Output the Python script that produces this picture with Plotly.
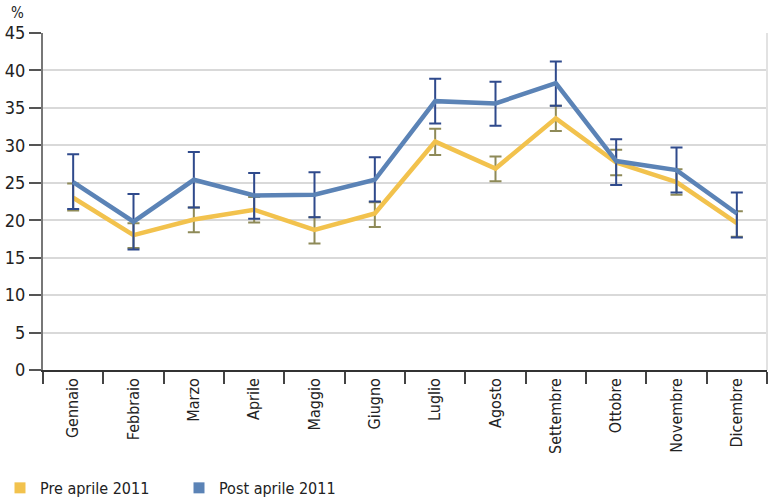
import plotly.graph_objects as go

# Months (Italian)
mesi = ["Gennaio", "Febbraio", "Marzo", "Aprile", "Maggio", "Giugno",
        "Luglio", "Agosto", "Settembre", "Ottobre", "Novembre", "Dicembre"]

# Pre aprile 2011: mean values and confidence bounds (%)
pre_val = [23.0, 18.0, 20.1, 21.4, 18.7, 20.9, 30.5, 26.9, 33.6, 27.7, 25.1, 19.6]
pre_hi = [24.9, 19.6, 21.7, 23.1, 20.4, 22.4, 32.2, 28.5, 35.3, 29.4, 26.8, 21.2]
pre_lo = [21.3, 16.3, 18.4, 19.7, 16.9, 19.1, 28.7, 25.2, 31.9, 26.0, 23.4, 17.8]

# Post aprile 2011: mean values and confidence bounds (%)
post_val = [25.1, 19.8, 25.4, 23.3, 23.4, 25.4, 35.9, 35.6, 38.3, 27.9, 26.7, 20.9]
post_hi = [28.8, 23.5, 29.1, 26.3, 26.4, 28.4, 38.9, 38.5, 41.2, 30.8, 29.7, 23.7]
post_lo = [21.5, 16.1, 21.7, 20.2, 20.4, 22.5, 32.9, 32.6, 35.3, 24.7, 23.7, 17.7]

y_ticks = [0, 5, 10, 15, 20, 25, 30, 35, 40, 45]

FONT = "DejaVu Sans Condensed, Liberation Sans Narrow, sans-serif"
YELLOW = "#F2C24D"
BLUE = "#5B83B6"
OLIVE = "#8E8A58"
NAVY = "#2F4A8C"


def err(vals, hi, lo):
    return ([h - v for h, v in zip(hi, vals)], [v - l for v, l in zip(vals, lo)])


pre_plus, pre_minus = err(pre_val, pre_hi, pre_lo)
post_plus, post_minus = err(post_val, post_hi, post_lo)

fig = go.Figure()

fig.add_trace(go.Scatter(
    x=mesi, y=pre_val, mode="lines", name="Pre aprile 2011",
    line=dict(color=YELLOW, width=4.5), showlegend=False,
    error_y=dict(type="data", symmetric=False, array=pre_plus, arrayminus=pre_minus,
                 color=OLIVE, thickness=2, width=6),
))
fig.add_trace(go.Scatter(
    x=mesi, y=post_val, mode="lines", name="Post aprile 2011",
    line=dict(color=BLUE, width=4.5), showlegend=False,
    error_y=dict(type="data", symmetric=False, array=post_plus, arrayminus=post_minus,
                 color=NAVY, thickness=2, width=6),
))

# Legend entries shown as square swatches
for name, col in [("Pre aprile 2011", YELLOW), ("Post aprile 2011", BLUE)]:
    fig.add_trace(go.Scatter(
        x=[None], y=[None], mode="markers", name=name,
        marker=dict(symbol="square", size=11, color=col),
    ))

fig.update_layout(
    width=773, height=502,
    margin=dict(l=43, r=6, t=33, b=132),
    paper_bgcolor="white", plot_bgcolor="white",
    font=dict(family=FONT, size=16, color="#222"),
    legend=dict(orientation="h", xref="container", yref="container",
                x=0.0, xanchor="left", y=0.028, yanchor="middle",
                font=dict(size=16, color="#222"), itemwidth=30,
                traceorder="normal", entrywidth=134),
    shapes=[dict(type="line", xref="paper", yref="paper", x0=1, x1=1, y0=0, y1=1,
                 line=dict(color="#E2E2E2", width=2))],
    annotations=[dict(text="%", xref="paper", yref="paper", x=-0.0353, y=1.059,
                      xanchor="center", yanchor="middle", showarrow=False,
                      font=dict(size=15, color="#222"))],
)

fig.update_xaxes(
    type="category", categoryorder="array", categoryarray=mesi,
    tickson="boundaries", ticks="outside", ticklen=12, tickwidth=1.5, tickcolor="#444",
    tickangle=-90, tickfont=dict(size=16, color="#222"),
    showgrid=False, showline=True, linecolor="#333", linewidth=1.5,
    range=[-0.5, 11.5],
)
fig.update_yaxes(
    range=[0, 45], tickvals=y_ticks, ticks="outside", ticklen=12, tickwidth=1.5,
    tickcolor="#555", tickfont=dict(size=18, color="#222"),
    showgrid=True, gridcolor="#D9D9D9", gridwidth=1.5,
    showline=True, linecolor="#777", linewidth=2, zeroline=False,
)

fig.write_html("out.html")
